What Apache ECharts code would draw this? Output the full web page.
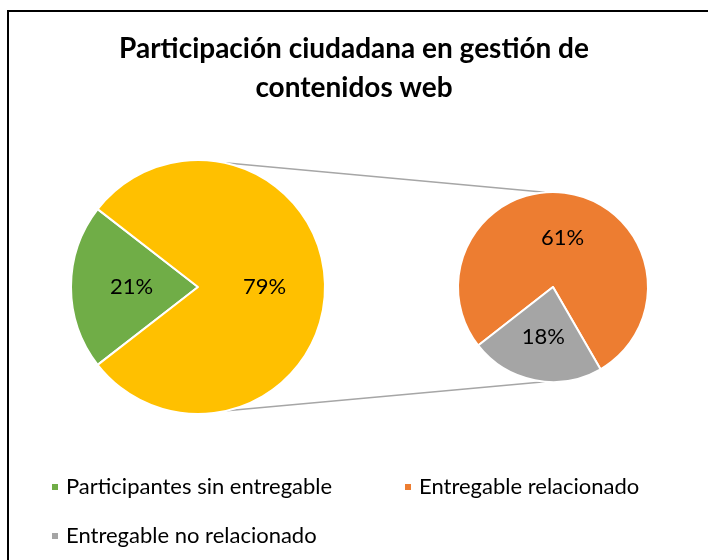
<!DOCTYPE html>
<html>
<head>
<meta charset="utf-8">
<title>Participación ciudadana</title>
<script src="https://cdn.jsdelivr.net/npm/echarts@6/dist/echarts.min.js"></script>
<style>
  html, body { margin: 0; padding: 0; background: #fff; }
  #chart { width: 708px; height: 560px; }
</style>
</head>
<body>
<div id="chart"></div>
<script>
// datos
const mainNames = ["Participantes sin entregable", "Otros"];
const mainValues = [21, 79];
const subNames = ["Entregable relacionado", "Entregable no relacionado"];
const subValues = [61, 18];

const colors = {
  "Participantes sin entregable": "#70AD47",
  "Otros": "#FFC000",
  "Entregable relacionado": "#ED7D31",
  "Entregable no relacionado": "#A5A5A5"
};

// geometria de las dos tartas
const mainCenter = [198, 287];
const mainRadius = 127;
const subCenter = [553, 287];
const subRadius = 95;

const FONT = "Lato";

function pointOn(center, r, deg) {
  const a = (deg * Math.PI) / 180;
  return [center[0] + r * Math.cos(a), center[1] - r * Math.sin(a)];
}

function connector(fromDeg, toDeg) {
  const p1 = pointOn(mainCenter, mainRadius, fromDeg);
  const p2 = pointOn(subCenter, subRadius, toDeg);
  return {
    type: "line",
    shape: { x1: p1[0], y1: p1[1], x2: p2[0], y2: p2[1] },
    style: { stroke: "#A6A6A6", lineWidth: 1.5 }
  };
}

function buildData(names, values) {
  return names.map((n, i) => ({
    name: n,
    value: values[i],
    itemStyle: { color: colors[n] }
  }));
}

const pieLabel = {
  show: true,
  position: "inside",
  formatter: "{c}%",
  color: "#000",
  fontFamily: FONT,
  fontSize: 22
};

const legendBase = {
  orient: "horizontal",
  icon: "rect",
  itemWidth: 8,
  itemHeight: 8,
  itemGap: 20,
  selectedMode: false,
  textStyle: { color: "#000", fontFamily: FONT, fontSize: 22, padding: [0, 0, 0, 2] }
};

const chart = echarts.init(document.getElementById("chart"));
chart.setOption({
  animation: false,
  title: {
    text: "Participación ciudadana en gestión de\ncontenidos web",
    left: "center",
    top: 24,
    textStyle: {
      fontFamily: FONT,
      fontSize: 28,
      fontWeight: "bold",
      color: "#000",
      lineHeight: 39
    }
  },
  legend: [
    Object.assign({}, legendBase, { data: [subNames[0]], left: 398, top: 471 }),
    Object.assign({}, legendBase, { data: [mainNames[0]], left: 45, top: 471 }),
    Object.assign({}, legendBase, { data: [subNames[1]], left: 45, top: 520 })
  ],
  graphic: [
    {
      type: "rect",
      shape: { x: 8, y: 11, width: 760, height: 620 },
      style: { fill: "none", stroke: "#000", lineWidth: 2 },
      z: 10
    },
    connector(78, 95),
    connector(-77, -95)
  ],
  series: [
    {
      type: "pie",
      center: mainCenter,
      radius: mainRadius,
      startAngle: 180 + (mainValues[0] / 100) * 180,
      clockwise: true,
      avoidLabelOverlap: false,
      itemStyle: { borderColor: "#fff", borderWidth: 2 },
      label: pieLabel,
      labelLine: { show: false },
      emphasis: { disabled: true },
      data: buildData(mainNames, mainValues)
    },
    {
      type: "pie",
      center: subCenter,
      radius: subRadius,
      startAngle: 218,
      clockwise: true,
      avoidLabelOverlap: false,
      itemStyle: { borderColor: "#fff", borderWidth: 2 },
      label: pieLabel,
      labelLine: { show: false },
      emphasis: { disabled: true },
      data: buildData(subNames, subValues)
    }
  ]
});
</script>
</body>
</html>
